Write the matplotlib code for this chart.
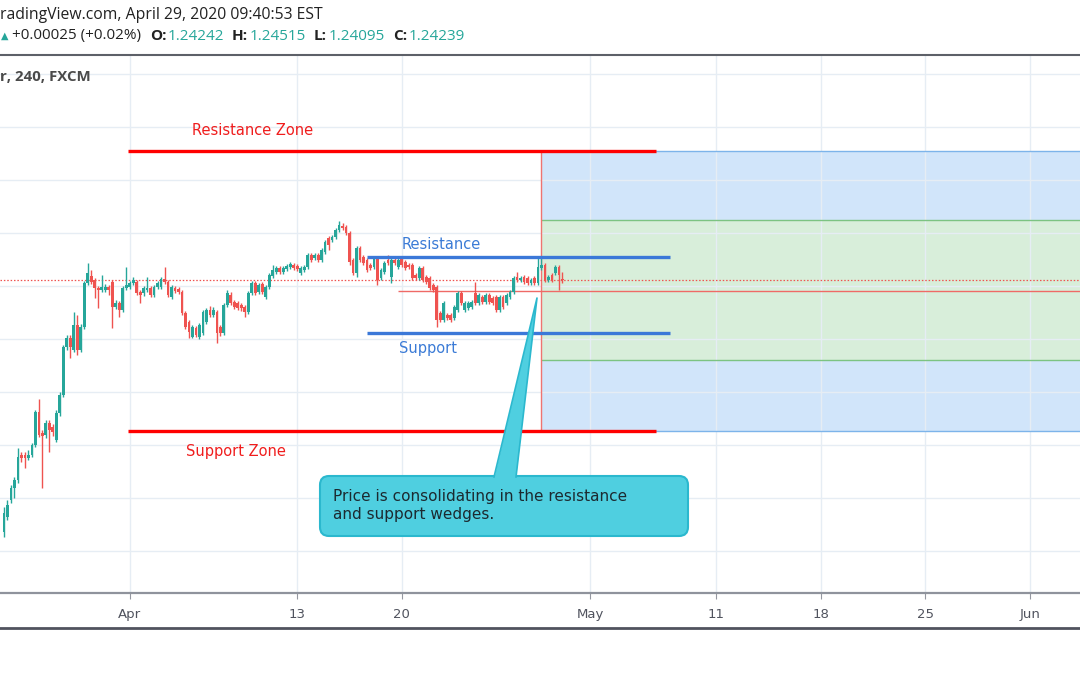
import numpy as np
import matplotlib.pyplot as plt
from matplotlib.patches import FancyBboxPatch, Polygon

# GBPUSD 4h candles (FXCM)
opens = [
    1.1473, 1.1529, 1.1593, 1.1639, 1.1669, 1.1763, 1.1763, 1.1752, 1.1763, 1.1801,
    1.1925, 1.1846, 1.1838, 1.1884, 1.1868, 1.1819, 1.1921, 1.1989, 1.2170, 1.2204,
    1.2159, 1.2253, 1.2159, 1.2245, 1.2411, 1.2438, 1.2423, 1.2392, 1.2385, 1.2385,
    1.2396, 1.2415, 1.2321, 1.2336, 1.2310, 1.2392, 1.2396, 1.2411, 1.2415, 1.2377,
    1.2374, 1.2385, 1.2392, 1.2366, 1.2396, 1.2396, 1.2426, 1.2415, 1.2359, 1.2392,
    1.2389, 1.2377, 1.2298, 1.2264, 1.2208, 1.2242, 1.2208, 1.2223, 1.2264, 1.2310,
    1.2291, 1.2302, 1.2245, 1.2223, 1.2328, 1.2366, 1.2340, 1.2336, 1.2328, 1.2321,
    1.2302, 1.2374, 1.2411, 1.2377, 1.2408, 1.2359, 1.2396, 1.2438, 1.2453, 1.2468,
    1.2453, 1.2464, 1.2472, 1.2479, 1.2475, 1.2449, 1.2460, 1.2472, 1.2517, 1.2506,
    1.2517, 1.2498, 1.2528, 1.2581, 1.2573, 1.2585, 1.2611, 1.2626, 1.2622, 1.2600,
    1.2498, 1.2449, 1.2543, 1.2509, 1.2498, 1.2479, 1.2472, 1.2506, 1.2430, 1.2453,
    1.2498, 1.2434, 1.2498, 1.2472, 1.2506, 1.2491, 1.2479, 1.2479, 1.2441, 1.2430,
    1.2468, 1.2434, 1.2430, 1.2404, 1.2396, 1.2298, 1.2272, 1.2291, 1.2291, 1.2279,
    1.2310, 1.2374, 1.2310, 1.2317, 1.2321, 1.2374, 1.2336, 1.2359, 1.2340, 1.2366,
    1.2355, 1.2359, 1.2310, 1.2359, 1.2336, 1.2359, 1.2377, 1.2434, 1.2423, 1.2434,
    1.2430, 1.2411, 1.2430, 1.2411, 1.2468, 1.2479, 1.2423, 1.2441, 1.2449, 1.2472,
    1.24242,
]
highs = [
    1.1567, 1.1593, 1.1650, 1.1680, 1.1789, 1.1774, 1.1774, 1.1782, 1.1808, 1.1933,
    1.1974, 1.1857, 1.1895, 1.1895, 1.1880, 1.1933, 1.2000, 1.2178, 1.2215, 1.2215,
    1.2302, 1.2291, 1.2257, 1.2419, 1.2487, 1.2460, 1.2430, 1.2400, 1.2441, 1.2408,
    1.2404, 1.2423, 1.2347, 1.2343, 1.2400, 1.2472, 1.2419, 1.2434, 1.2423, 1.2385,
    1.2400, 1.2434, 1.2400, 1.2404, 1.2419, 1.2434, 1.2472, 1.2423, 1.2404, 1.2400,
    1.2396, 1.2385, 1.2306, 1.2272, 1.2253, 1.2249, 1.2261, 1.2310, 1.2317, 1.2325,
    1.2321, 1.2310, 1.2253, 1.2336, 1.2385, 1.2377, 1.2347, 1.2343, 1.2336, 1.2328,
    1.2381, 1.2419, 1.2419, 1.2411, 1.2415, 1.2404, 1.2449, 1.2479, 1.2475, 1.2475,
    1.2475, 1.2483, 1.2491, 1.2487, 1.2483, 1.2475, 1.2479, 1.2524, 1.2524, 1.2524,
    1.2524, 1.2543, 1.2573, 1.2589, 1.2592, 1.2619, 1.2645, 1.2638, 1.2630, 1.2607,
    1.2506, 1.2551, 1.2551, 1.2517, 1.2506, 1.2487, 1.2513, 1.2513, 1.2468, 1.2494,
    1.2517, 1.2506, 1.2506, 1.2506, 1.2513, 1.2498, 1.2487, 1.2487, 1.2449, 1.2475,
    1.2475, 1.2441, 1.2438, 1.2411, 1.2404, 1.2306, 1.2343, 1.2298, 1.2298, 1.2328,
    1.2381, 1.2381, 1.2343, 1.2343, 1.2347, 1.2415, 1.2374, 1.2366, 1.2374, 1.2374,
    1.2362, 1.2366, 1.2366, 1.2366, 1.2374, 1.2385, 1.2438, 1.2453, 1.2438, 1.2441,
    1.2438, 1.2430, 1.2438, 1.2509, 1.2506, 1.2487, 1.2441, 1.2449, 1.2479, 1.2479,
    1.24515,
]
lows = [
    1.1454, 1.1518, 1.1582, 1.1601, 1.1657, 1.1737, 1.1714, 1.1744, 1.1755, 1.1793,
    1.1831, 1.1639, 1.1827, 1.1774, 1.1835, 1.1812, 1.1910, 1.1982, 1.2159, 1.2129,
    1.2151, 1.2140, 1.2151, 1.2238, 1.2404, 1.2408, 1.2355, 1.2317, 1.2377, 1.2377,
    1.2366, 1.2242, 1.2313, 1.2283, 1.2302, 1.2385, 1.2389, 1.2404, 1.2366, 1.2336,
    1.2362, 1.2377, 1.2359, 1.2359, 1.2389, 1.2389, 1.2408, 1.2359, 1.2351, 1.2374,
    1.2370, 1.2291, 1.2238, 1.2204, 1.2204, 1.2208, 1.2200, 1.2215, 1.2257, 1.2283,
    1.2283, 1.2185, 1.2212, 1.2215, 1.2321, 1.2328, 1.2313, 1.2310, 1.2306, 1.2283,
    1.2294, 1.2366, 1.2366, 1.2370, 1.2370, 1.2351, 1.2389, 1.2430, 1.2445, 1.2445,
    1.2445, 1.2457, 1.2464, 1.2460, 1.2457, 1.2441, 1.2453, 1.2464, 1.2491, 1.2498,
    1.2491, 1.2491, 1.2521, 1.2536, 1.2566, 1.2577, 1.2604, 1.2611, 1.2592, 1.2479,
    1.2441, 1.2434, 1.2491, 1.2479, 1.2453, 1.2460, 1.2464, 1.2404, 1.2423, 1.2445,
    1.2479, 1.2411, 1.2479, 1.2464, 1.2472, 1.2460, 1.2464, 1.2423, 1.2423, 1.2423,
    1.2415, 1.2408, 1.2385, 1.2377, 1.2245, 1.2264, 1.2264, 1.2272, 1.2264, 1.2272,
    1.2302, 1.2328, 1.2302, 1.2310, 1.2313, 1.2328, 1.2328, 1.2332, 1.2332, 1.2332,
    1.2328, 1.2302, 1.2302, 1.2313, 1.2328, 1.2351, 1.2370, 1.2415, 1.2415, 1.2408,
    1.2404, 1.2404, 1.2404, 1.2404, 1.2460, 1.2415, 1.2415, 1.2415, 1.2441, 1.2385,
    1.24095,
]
closes = [
    1.1544, 1.1574, 1.1639, 1.1669, 1.1755, 1.1752, 1.1752, 1.1763, 1.1801, 1.1925,
    1.1838, 1.1835, 1.1884, 1.1857, 1.1850, 1.1921, 1.1989, 1.2170, 1.2204, 1.2170,
    1.2253, 1.2159, 1.2245, 1.2411, 1.2449, 1.2415, 1.2392, 1.2385, 1.2396, 1.2396,
    1.2385, 1.2321, 1.2336, 1.2310, 1.2392, 1.2404, 1.2411, 1.2423, 1.2374, 1.2366,
    1.2392, 1.2392, 1.2366, 1.2396, 1.2411, 1.2426, 1.2415, 1.2366, 1.2396, 1.2381,
    1.2377, 1.2298, 1.2245, 1.2227, 1.2245, 1.2215, 1.2253, 1.2302, 1.2310, 1.2291,
    1.2310, 1.2223, 1.2223, 1.2328, 1.2374, 1.2336, 1.2321, 1.2317, 1.2317, 1.2302,
    1.2374, 1.2411, 1.2374, 1.2404, 1.2377, 1.2396, 1.2441, 1.2460, 1.2468, 1.2453,
    1.2468, 1.2475, 1.2483, 1.2468, 1.2464, 1.2468, 1.2472, 1.2517, 1.2498, 1.2517,
    1.2498, 1.2536, 1.2566, 1.2555, 1.2585, 1.2611, 1.2630, 1.2619, 1.2600, 1.2491,
    1.2449, 1.2543, 1.2498, 1.2487, 1.2460, 1.2468, 1.2506, 1.2423, 1.2460, 1.2487,
    1.2487, 1.2498, 1.2487, 1.2498, 1.2479, 1.2468, 1.2472, 1.2430, 1.2430, 1.2468,
    1.2423, 1.2415, 1.2392, 1.2385, 1.2272, 1.2272, 1.2336, 1.2279, 1.2272, 1.2321,
    1.2374, 1.2336, 1.2336, 1.2336, 1.2340, 1.2336, 1.2366, 1.2340, 1.2366, 1.2340,
    1.2336, 1.2310, 1.2359, 1.2321, 1.2366, 1.2377, 1.2430, 1.2423, 1.2430, 1.2415,
    1.2411, 1.2423, 1.2411, 1.2472, 1.2479, 1.2423, 1.2434, 1.2423, 1.2472, 1.2441,
    1.24239,
]

# x axis is bar index (6 bars a day, weekends skipped)
tick_pos = [36, 84, 114, 168, 204, 234, 264, 294]
tick_labels = ["Apr", "13", "20", "May", "11", "18", "25", "Jun"]
price_grid = [1.14, 1.16, 1.18, 1.20, 1.22, 1.24, 1.26, 1.28, 1.30, 1.32]

last_price = 1.24239
resistance_zone = 1.2909
support_zone = 1.1853
resistance = 1.2509
support = 1.2223
entry = 1.2381
inner_top = 1.2649
inner_bottom = 1.2121
tool_start = 153.9

GREEN = "#26a69a"
RED = "#ef5350"

o = np.array(opens)
h = np.array(highs)
l = np.array(lows)
c = np.array(closes)
x = np.arange(len(o))
cols = np.where(c >= o, GREEN, RED)

fig = plt.figure(figsize=(10.8, 6.75), dpi=100)
ax = fig.add_axes([0, 82 / 675, 1, 538 / 675])
ax.set_xlim(-1.146, 308.3)
ax.set_ylim(1.124151, 1.327170)

ax.set_xticks(tick_pos)
ax.set_xticklabels(tick_labels)
ax.set_yticks(price_grid)
ax.grid(True, color="#e6edf4", lw=1, zorder=0)
ax.tick_params(axis="y", left=False, labelleft=False)
ax.tick_params(axis="x", length=4, color="#9598a1", labelsize=9.5,
               labelcolor="#50535e", pad=7)
for s in ["top", "left", "right"]:
    ax.spines[s].set_visible(False)
ax.spines["bottom"].set_color("#8f939c")
ax.spines["bottom"].set_linewidth(1.6)

# long position box
ax.fill_between([tool_start, 320], inner_top, resistance_zone, color="#d1e5fa", zorder=1, lw=0)
ax.fill_between([tool_start, 320], inner_bottom, inner_top, color="#d8eeda", zorder=1, lw=0)
ax.fill_between([tool_start, 320], support_zone, inner_bottom, color="#d1e5fa", zorder=1, lw=0)
ax.hlines([resistance_zone, support_zone], tool_start, 320, color="#7db4ea", lw=1, zorder=2)
ax.hlines([inner_top, inner_bottom], tool_start, 320, color="#7cc382", lw=1, zorder=2)
ax.vlines(tool_start, support_zone, resistance_zone, color="#ef7470", lw=1, zorder=2)
ax.hlines(entry, 112.9, 320, color="#ef6a66", lw=1, zorder=2)

# last price
ax.axhline(last_price, color=RED, lw=0.9, ls=(0, (1.2, 1.5)), zorder=3)

# candles
ax.vlines(x, l, h, colors=cols, lw=1, zorder=4)
body = np.maximum(np.abs(c - o), 0.0003)
ax.bar(x, body, bottom=np.minimum(o, c), width=0.8, color=cols, lw=0, zorder=5)

# zones and levels
ax.hlines([resistance_zone, support_zone], 35.5, 186.8, color="#ff0000", lw=2.4, zorder=6)
ax.hlines([resistance, support], 104, 190.8, color="#3b78d8", lw=2.4, zorder=6)
lab = dict(ha="center", va="center", fontsize=10.5, family="DejaVu Sans", zorder=7)
ax.text(71.3, 1.2985, "Resistance Zone", color="#f01d1d", **lab)
ax.text(66.5, 1.1777, "Support Zone", color="#f01d1d", **lab)
ax.text(125.2, 1.2558, "Resistance", color="#3b7bd6", **lab)
ax.text(121.5, 1.2166, "Support", color="#3b7bd6", **lab)

# overlay in pixel units for header and callout
ov = fig.add_axes([0, 0, 1, 1])
ov.set_xlim(0, 1080)
ov.set_ylim(675, 0)
ov.axis("off")
ov.patch.set_alpha(0)

hdr = ["Open Sans", "DejaVu Sans"]
ov.text(0, 15, "radingView.com, April 29, 2020 09:40:53 EST", fontsize=11.3,
        family=hdr, color="#222222", va="center")
ov.text(0.5, 36, "\u25b2", fontsize=7, color=GREEN, va="center", family="DejaVu Sans")
ov.text(12, 36, "+0.00025 (+0.02%)", fontsize=11, family=hdr, color="#222222", va="center")
for xl, lbl, xv, val in [(150, "O:", 168, "1.24242"), (232, "H:", 250, "1.24515"),
                         (314, "L:", 329, "1.24095"), (393, "C:", 409, "1.24239")]:
    ov.text(xl, 36, lbl, fontsize=11, family=hdr, weight="bold", color="#222222", va="center")
    ov.text(xv, 36, val, fontsize=11, family=hdr, color=GREEN, va="center")
ov.plot([0, 1080], [55, 55], color="#5d6068", lw=1.5)
ov.text(0, 77, "r, 240, FXCM", fontsize=10.8, family=hdr, weight="bold", color="#4a4a4a", va="center")
ov.plot([0, 1080], [628, 628], color="#50535e", lw=2)

# callout
box = FancyBboxPatch((320, 476), 368, 60, boxstyle="round,pad=0,rounding_size=9",
                     fc="#4fcfe0", ec="#2bb8ce", lw=1.5, zorder=8)
ov.add_patch(box)
ov.add_patch(Polygon([(494, 479), (516, 479), (537, 298)], closed=True,
                     fc="#4fcfe0", ec="none", zorder=9))
ov.plot([494, 537, 516], [477, 298, 477], color="#2bb8ce", lw=1.2, zorder=9)
ov.text(333, 496, "Price is consolidating in the resistance", fontsize=11,
        family="DejaVu Sans", color="#1c2a30", va="center", zorder=10)
ov.text(333, 514, "and support wedges.", fontsize=11,
        family="DejaVu Sans", color="#1c2a30", va="center", zorder=10)

fig.savefig("out.png", dpi=100)
